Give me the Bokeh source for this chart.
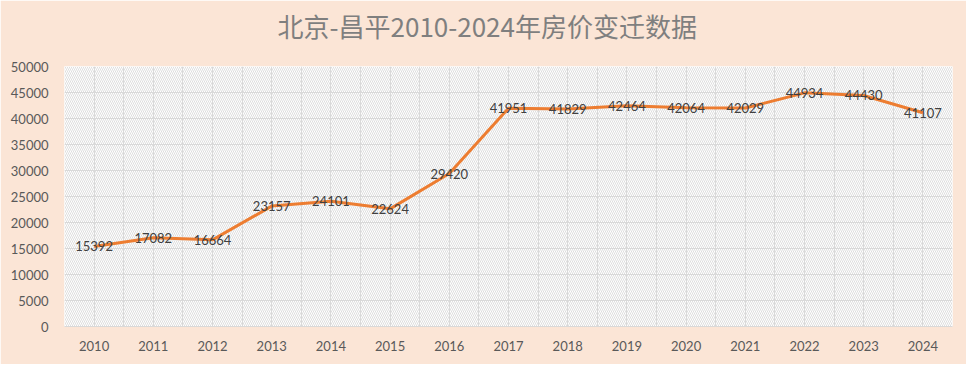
from bokeh.plotting import figure
from bokeh.models import FixedTicker, ColumnDataSource, Title
from bokeh.core.properties import value
from bokeh.embed import file_html
from bokeh.resources import INLINE

years = ["2010", "2011", "2012", "2013", "2014", "2015", "2016", "2017",
         "2018", "2019", "2020", "2021", "2022", "2023", "2024"]
prices = [15392, 17082, 16664, 23157, 24101, 22624, 29420, 41951,
          41829, 42464, 42064, 42029, 44934, 44430, 41107]
y_ticks = [0, 5000, 10000, 15000, 20000, 25000, 30000, 35000, 40000, 45000, 50000]
title_text = "北京-昌平2010-2024年房价变迁数据"

idx = list(range(len(years)))
src = ColumnDataSource(dict(x=idx, y=prices, label=[str(v) for v in prices]))

PEACH = "#FBE5D6"
GRID = "#D9D9D9"
LABEL = "#595959"

p = figure(width=966, height=364, output_backend="svg", toolbar_location=None,
           x_range=(-0.5, len(years) - 0.5), y_range=(y_ticks[0], y_ticks[-1]),
           min_border_left=64, min_border_right=14, min_border_top=66, min_border_bottom=38,
           border_fill_color=PEACH, background_fill_color="white", outline_line_color=None)

# main title (outermost panel)
p.title = Title(text=title_text, align="left", offset=213, standoff=4,
                text_font="Noto Sans CJK SC", text_font_size="26px",
                text_font_style="normal", text_color="#7F7F7F")
# blank spacer title between the title and the plot area
p.add_layout(Title(text=" ", text_font_size="10px", standoff=8), "above")

xax = p.below[0]
yax = p.left[0]

xax.ticker = FixedTicker(ticks=idx, minor_ticks=[i - 0.5 for i in range(len(years) + 1)])
xax.major_label_overrides = {i: y for i, y in enumerate(years)}
yax.ticker = FixedTicker(ticks=y_ticks)

for ax in (xax, yax):
    ax.major_tick_line_color = None
    ax.minor_tick_line_color = None
    ax.major_label_text_font = "Lato"
    ax.major_label_text_font_size = "13px"
    ax.major_label_text_color = LABEL
xax.axis_line_color = GRID
xax.major_label_standoff = 8
yax.axis_line_color = None
yax.major_label_standoff = 10

p.xgrid.grid_line_color = GRID
p.xgrid.minor_grid_line_color = GRID
p.ygrid.grid_line_color = GRID

# hatched plot-area background
p.quad(left=[-0.5], right=[len(years) - 0.5], bottom=[y_ticks[0]], top=[y_ticks[-1]],
       fill_color="white", line_color=None, hatch_pattern="\\", hatch_color="#DEDEDE",
       hatch_scale=4, hatch_weight=1, level="image")

p.line("x", "y", source=src, line_color="#ED7D31", line_width=3)
p.text("x", "y", text="label", source=src, text_align="center", text_baseline="middle",
       text_font=value("Lato"), text_font_size="13px", text_color="#404040")

open("out.html", "w").write(file_html(p, INLINE))
